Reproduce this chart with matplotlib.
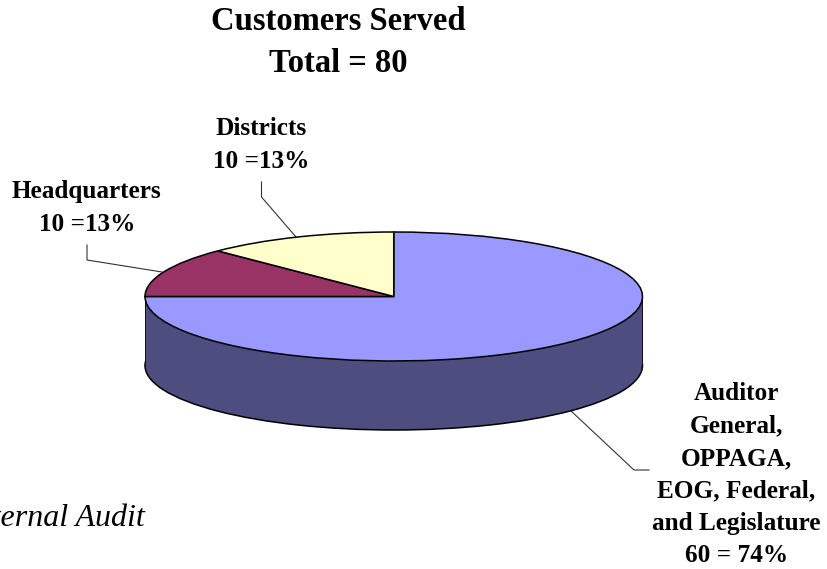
# Customers Served - 3D style pie chart
import matplotlib
matplotlib.use('Agg')
import matplotlib.pyplot as plt
from matplotlib.patches import Rectangle

plt.rcParams['font.family'] = ['Liberation Serif', 'DejaVu Serif']

# ===== data =====
categories = ['Auditor General, OPPAGA, EOG, Federal, and Legislature', 'Headquarters', 'Districts']
values = [60, 10, 10]
labels = ['Auditor\nGeneral,\nOPPAGA,\nEOG, Federal,\nand Legislature\n60 = 74%',
          'Headquarters\n10 =13%',
          'Districts\n10 =13%']
top_colors = ['#9999FF', '#993366', '#FFFFCC']
side_color = '#4D4D80'

W, H = 827, 569
fig = plt.figure(figsize=(W / 100, H / 100), dpi=100, facecolor='white')

# ===== pixel overlay for text and leader lines =====
px = fig.add_axes([0, 0, 1, 1])
px.set_xlim(0, W)
px.set_ylim(H, 0)
px.axis('off')

# ===== pie, the axes box is the ellipse bounding box =====
left, right, top, bottom = 145, 642.5, 232, 361
depth = 69 / ((bottom - top) / 2)  # wall height in radius units
ax = fig.add_axes([left / W, 1 - (bottom + 69) / H, (right - left) / W, (bottom + 69 - top) / H])
ax.patch.set_visible(False)

# wall
ax.pie([1], colors=[side_color], center=(0, -depth), radius=1, startangle=90,
       wedgeprops=dict(edgecolor='black', linewidth=1.1), frame=True)
ax.add_patch(Rectangle((-1, -depth), 2, depth, facecolor=side_color, edgecolor='none', zorder=2))
ax.plot([-1, -1], [0, -depth], color='black', lw=1.1, zorder=3)
ax.plot([1, 1], [0, -depth], color='black', lw=1.1, zorder=3)

# top face
ax.pie(values, colors=top_colors, startangle=90, counterclock=False, radius=1,
       wedgeprops=dict(edgecolor='black', linewidth=1.1, zorder=4), frame=True)

ax.set_aspect('auto')
ax.set_xlim(-1, 1)
ax.set_ylim(-1 - depth, 1)
ax.axis('off')

# ===== title =====
px.text(338, 30, 'Customers Served', ha='center', va='baseline', fontsize=23.5, fontweight='bold')
px.text(338, 72, 'Total = 80', ha='center', va='baseline', fontsize=23.5, fontweight='bold')

# ===== labels =====
label_style = dict(ha='center', va='baseline', multialignment='center', fontsize=18.2,
                   fontweight='bold', linespacing=1.53)
px.text(261.5, 168, labels[2], **label_style)
px.text(87, 231, labels[1], **label_style)
px.text(736.5, 562.5, labels[0], **label_style)

# ===== leader lines =====
px.plot([261.5, 261.5, 296], [182, 197, 237], color='#333333', lw=0.8)
px.plot([87, 87, 162], [245, 260, 272], color='#333333', lw=0.8)
px.plot([570, 634, 649], [410, 470, 470], color='#333333', lw=0.8)

# ===== clipped note at left edge =====
px.text(145, 526, 'Internal Audit', ha='right', va='baseline', fontsize=23, fontstyle='italic')

fig.savefig('out.png', dpi=100)
plt.close()
